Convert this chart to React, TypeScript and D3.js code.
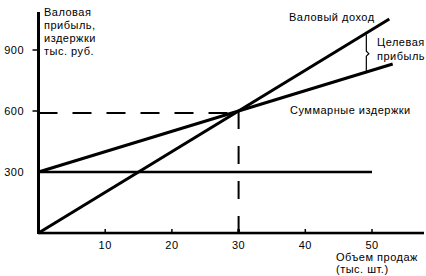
import React from "react";
import * as d3 from "d3";

const xTicks = [10, 20, 30, 40, 50];
const yTicks = [300, 600, 900];
const revenueVolume = [0, 52.6];
const revenueValues = [0, 1052];
const costVolume = [0, 53.1];
const costValues = [300, 831];
const fixedVolume = [0, 50];
const fixedValues = [300, 300];
const breakEven = { volume: 30, value: 600 };
const targetVolume = 49.3;

const font = "'Liberation Sans', Arial, sans-serif";

export default function App() {
  const W = 426, H = 276;
  const x = d3.scaleLinear().domain([0, 50]).range([38.5, 372]);
  const y = d3.scaleLinear().domain([0, 900]).range([233, 50]);
  const line = d3.line<[number, number]>().x(d => x(d[0])).y(d => y(d[1]));
  const pairs = (a: number[], b: number[]) => a.map((v, i) => [v, b[i]] as [number, number]);

  const tTop = y(20 * targetVolume) + 2;
  const tBot = y(300 + 10 * targetVolume) - 1;
  const tMid = (tTop + tBot) / 2 + 1;
  const bx = x(targetVolume) - 1;

  const txt = { fontFamily: font, fontSize: 11, letterSpacing: 0.5, fill: "#000" } as const;

  return (
    <svg width={W} height={H} style={{ position: "fixed", left: 0, top: 0, background: "#fff" }}>
      {/* axes */}
      <line x1={x(0)} x2={x(0)} y1={12} y2={234} stroke="#000" strokeWidth={3} />
      <line x1={x(0)} x2={424} y1={y(0)} y2={y(0)} stroke="#000" strokeWidth={2.5} />
      <line x1={x(0)} x2={424} y1={y(0) + 1.5} y2={y(0) + 1.5} stroke="#999" strokeWidth={1} strokeDasharray="1,1" />
      {xTicks.map(t => (
        <g key={t}>
          <line x1={x(t)} x2={x(t)} y1={y(0) - 4} y2={y(0)} stroke="#000" strokeWidth={t === 30 ? 2.5 : 1.5} />
          <text x={x(t)} y={y(0) + 16} textAnchor="middle" {...txt}>{t}</text>
        </g>
      ))}
      {yTicks.map(t => (
        <g key={t}>
          {t !== 300 && <line x1={x(0) - 6} x2={x(0)} y1={y(t)} y2={y(t)} stroke="#000" strokeWidth={1.5} />}
          <text x={24} y={y(t) + 4} textAnchor="end" {...txt}>{t}</text>
        </g>
      ))}

      {/* break-even dashed guides */}
      <line x1={x(0)} x2={x(breakEven.volume)} y1={y(breakEven.value) + 2} y2={y(breakEven.value) + 2}
        stroke="#000" strokeWidth={2} strokeDasharray="19,15" />
      <line x1={x(breakEven.volume)} x2={x(breakEven.volume)} y1={y(breakEven.value)} y2={y(0)}
        stroke="#000" strokeWidth={2} strokeDasharray="18,17" />

      {/* lines */}
      <path d={line(pairs(fixedVolume, fixedValues)) || ""} stroke="#000" strokeWidth={2.5} fill="none" />
      <path d={line(pairs(costVolume, costValues)) || ""} stroke="#000" strokeWidth={3} fill="none" />
      <path d={line(pairs(revenueVolume, revenueValues)) || ""} stroke="#000" strokeWidth={3} fill="none" />

      {/* target profit bracket */}
      <path d={`M${bx},${tTop}V${tMid - 2.5}L${bx + 2.5},${tMid}L${bx},${tMid + 2.5}V${tBot}`} stroke="#000" strokeWidth={1.2} fill="none" />

      {/* labels */}
      <text {...txt}>
        <tspan x={44} y={16}>Валовая</tspan>
        <tspan x={44} y={29}>прибыль,</tspan>
        <tspan x={44} y={42}>издержки</tspan>
        <tspan x={44} y={55}>тыс. руб.</tspan>
      </text>
      <text x={289} y={21} {...txt}>Валовый доход</text>
      <text {...txt}>
        <tspan x={377} y={46}>Целевая</tspan>
        <tspan x={377} y={60}>прибыль</tspan>
      </text>
      <text x={290} y={114} {...txt}>Суммарные издержки</text>
      <text {...txt}>
        <tspan x={336} y={261}>Объем продаж</tspan>
        <tspan x={336} y={273}>(тыс. шт.)</tspan>
      </text>
    </svg>
  );
}
